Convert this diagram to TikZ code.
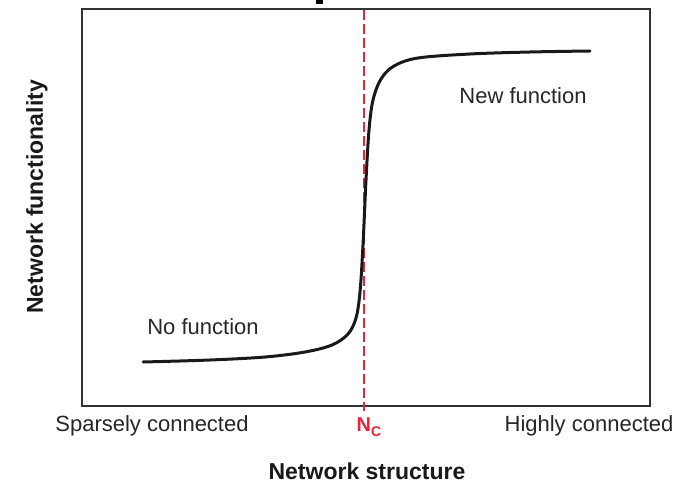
\documentclass[tikz,border=0pt]{standalone}
\usepackage{fontspec}
\setmainfont{Liberation Sans}
\definecolor{ncred}{RGB}{232,36,56}
\definecolor{framegray}{RGB}{50,50,50}
\tikzset{
  lbl/.style={font=\fontsize{22}{26}\selectfont, text=black!85, inner sep=0pt},
  axlbl/.style={font=\fontsize{23}{27}\selectfont\bfseries, text=black!90, inner sep=0pt},
  frameline/.style={draw=framegray, line width=2.6pt},
  curveline/.style={draw=black!90, line width=3pt, line cap=round},
  ncline/.style={draw=ncred, line width=2pt, dash pattern=on 10pt off 4pt}
}
\begin{document}
\begin{tikzpicture}[x=1pt,y=-1pt]
\useasboundingbox (0,0) rectangle (693,486);
\fill[black] (316,0) rectangle (323,4);
% frame
\draw[frameline] (82,9) rectangle (650,406);
% critical line
\coordinate (nctop) at (364,10);
\coordinate (ncbot) at (364,411);
\draw[ncline] (nctop) -- (ncbot);
% curve
\draw[curveline] plot[smooth, tension=0.55] coordinates {
 (143,362) (210,360) (265,357) (305,352) (332,345) (348,334) (356,318)
 (360,292) (363,245) (366,180) (369,130) (373,100) (381,79) (394,66)
 (418,58) (470,54) (530,52) (590,51)};
% labels
\node[lbl] (nofn) at (203,327) {No function};
\node[lbl] (newfn) at (523,96) {New function};
\node[lbl] (sparse) at (152,426) {Sparsely connected};
\node[lbl] (high) at (589,426) {Highly connected};
\node[font=\fontsize{20}{24}\selectfont\bfseries, text=ncred, inner sep=0pt] (nc) at (369,427) {N\raisebox{-0.45ex}{\fontsize{14}{16}\selectfont C}};
\node[axlbl] (xlab) at (367,471) {Network structure};
\node[axlbl, rotate=90] (ylab) at (37,197) {Network functionality};
\end{tikzpicture}
\end{document}
